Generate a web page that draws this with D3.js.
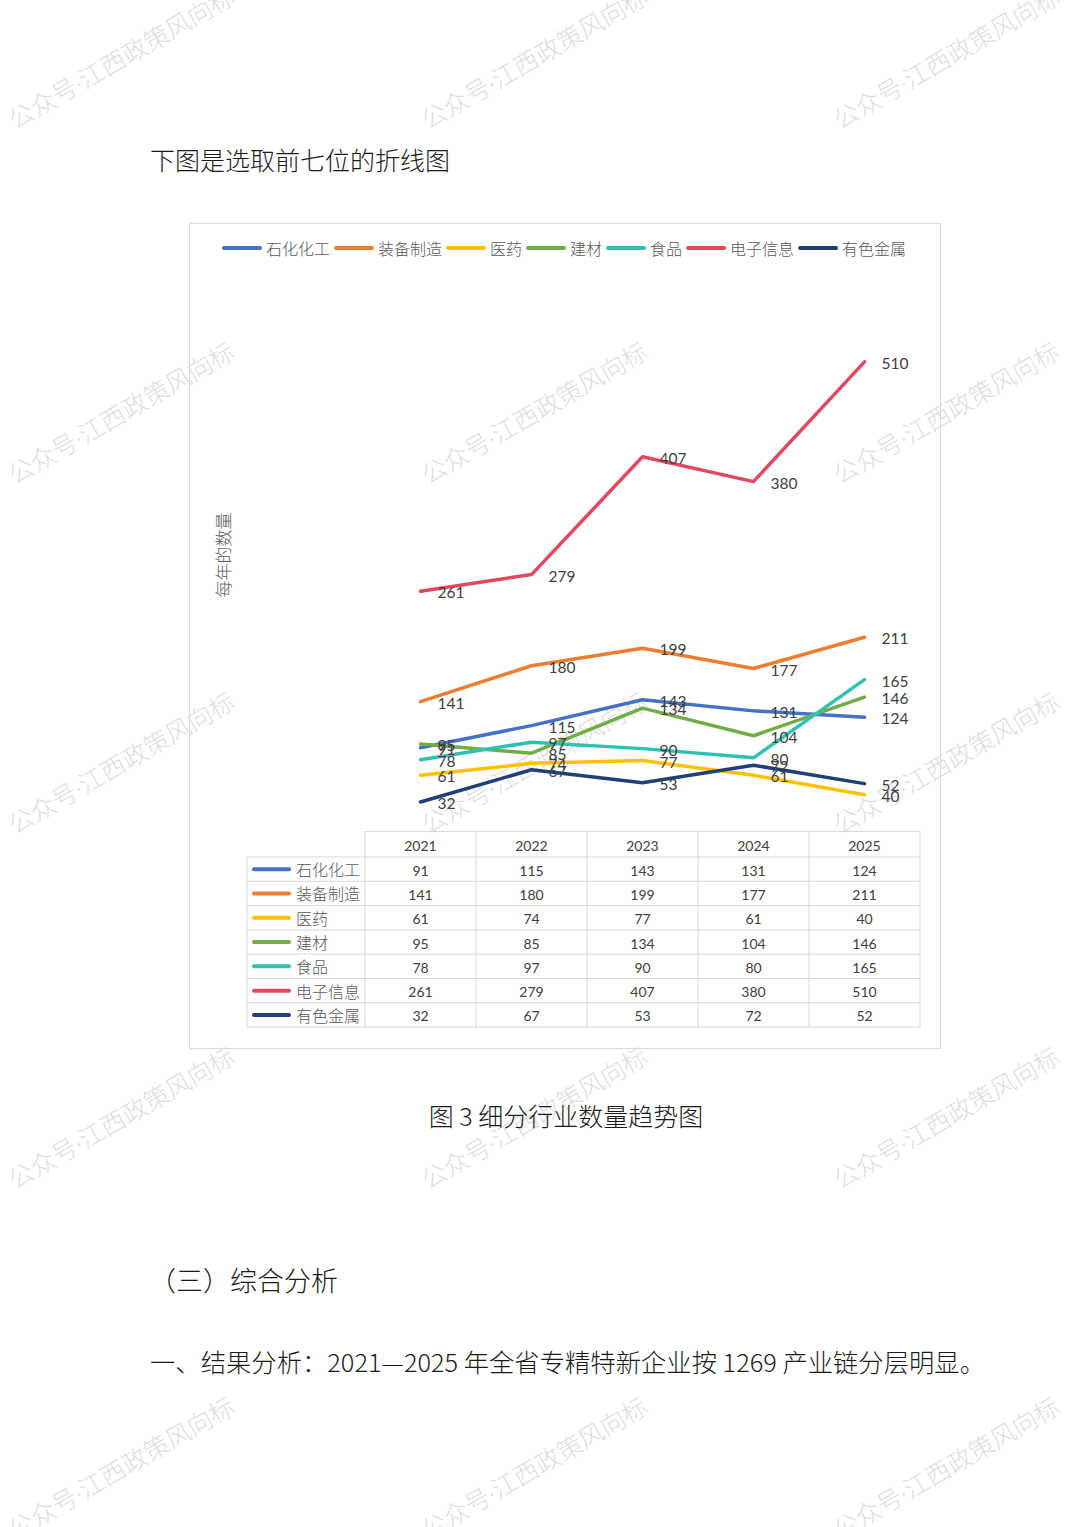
<!DOCTYPE html>
<html>
<head>
<meta charset="utf-8">
<script src="https://cdn.jsdelivr.net/npm/d3@7"></script>
<style>
    html, body { margin: 0; padding: 0; background: #fff; }
    svg { display: block; }
</style>
</head>
<body>
<svg id="page" width="1080" height="1527"></svg>
<script>
// data
const YEARS = ['2021', '2022', '2023', '2024', '2025'];
const SERIES_NAMES = ['石化化工', '装备制造', '医药', '建材', '食品', '电子信息', '有色金属'];
const SHIHUA = [91, 115, 143, 131, 124];
const ZHUANGBEI = [141, 180, 199, 177, 211];
const YIYAO = [61, 74, 77, 61, 40];
const JIANCAI = [95, 85, 134, 104, 146];
const SHIPIN = [78, 97, 90, 80, 165];
const DIANZI = [261, 279, 407, 380, 510];
const YOUSE = [32, 67, 53, 72, 52];
const SERIES_COLORS = ['#4472C4', '#ED7D31', '#FFC000', '#70AD47', '#2FC2B2', '#E2485E', '#203F75'];

const WATERMARK = '公众号·江西政策风向标';

function trendChart() {
    const root = d3.select('#page');

    const CJK = '"Noto Sans CJK SC", "Noto Sans", sans-serif';
    const NUM = 'Lato, "Liberation Sans", sans-serif';

    const BOX = {x: 189.5, y: 223.5, w: 751, h: 825};
    const PLOT_LEFT = 365;
    const PLOT_RIGHT = 920;
    const PLOT_TOP = 279;
    const PLOT_BOTTOM = 831.5;

    const TABLE_LEFT = 247;
    const HEADER_H = 25.5;
    const ROW_H = 24.3;
    const LINE_W = 3.5;

    const series = SERIES_NAMES.map((name, i) => ({
        name: name,
        values: [SHIHUA, ZHUANGBEI, YIYAO, JIANCAI, SHIPIN, DIANZI, YOUSE][i],
        color: SERIES_COLORS[i]
    }));

    const x = d3.scaleBand().domain(YEARS).range([PLOT_LEFT, PLOT_RIGHT]);
    const cx = d => x(d) + x.bandwidth() / 2;
    const y = d3.scaleLinear().domain([0, 600]).range([PLOT_BOTTOM, PLOT_TOP]);

    drawWatermarks();
    drawPageText();
    drawFrame();
    drawLegend();
    drawLines();
    drawTable();

    function drawPageText() {
        root.append('text')
            .text('下图是选取前七位的折线图')
            .attr('x', 150)
            .attr('y', 159)
            .attr('font-family', CJK)
            .attr('font-weight', 300)
            .attr('font-size', 25)
            .attr('fill', '#1a1a1a')
            .attr('dominant-baseline', 'central');

        root.append('text')
            .text('图 3 细分行业数量趋势图')
            .attr('x', 566)
            .attr('y', 1115)
            .attr('font-family', CJK)
            .attr('font-weight', 300)
            .attr('font-size', 25)
            .attr('fill', '#1a1a1a')
            .attr('text-anchor', 'middle')
            .attr('dominant-baseline', 'central');

        root.append('text')
            .text('（三）综合分析')
            .attr('x', 149)
            .attr('y', 1279)
            .attr('font-family', CJK)
            .attr('font-weight', 300)
            .attr('font-size', 27)
            .attr('fill', '#1a1a1a')
            .attr('dominant-baseline', 'central');

        root.append('text')
            .text('一、结果分析：2021—2025 年全省专精特新企业按 1269 产业链分层明显。')
            .attr('x', 150)
            .attr('y', 1361)
            .attr('font-family', CJK)
            .attr('font-weight', 300)
            .attr('font-size', 25)
            .attr('fill', '#1a1a1a')
            .attr('textLength', 835)
            .attr('lengthAdjust', 'spacingAndGlyphs')
            .attr('dominant-baseline', 'central');
    }

    function drawFrame() {
        root.append('rect')
            .attr('x', BOX.x)
            .attr('y', BOX.y)
            .attr('width', BOX.w)
            .attr('height', BOX.h)
            .attr('fill', 'none')
            .attr('stroke', '#d9d9d9')
            .attr('stroke-width', 1);

        root.append('text')
            .text('每年的数量')
            .attr('transform', 'translate(222,555) rotate(-90)')
            .attr('font-family', CJK)
            .attr('font-weight', 300)
            .attr('font-size', 17)
            .attr('fill', '#595959')
            .attr('text-anchor', 'middle')
            .attr('dominant-baseline', 'central');
    }

    function drawLegend() {
        const g = root.append('g').attr('class', 'legend');
        let pos = 222;
        series.forEach(s => {
            g.append('line')
                .attr('x1', pos + 2)
                .attr('x2', pos + 38)
                .attr('y1', 248)
                .attr('y2', 248)
                .attr('stroke', s.color)
                .attr('stroke-width', 4)
                .attr('stroke-linecap', 'round');
            const t = g.append('text')
                .text(s.name)
                .attr('x', pos + 44)
                .attr('y', 248)
                .attr('font-family', CJK)
                .attr('font-weight', 300)
                .attr('font-size', 16)
                .attr('fill', '#595959')
                .attr('dominant-baseline', 'central');
            pos += 44 + t.node().getComputedTextLength() + 4;
        });
    }

    function drawLines() {
        const line = d3.line()
            .x((d, i) => cx(YEARS[i]))
            .y(d => y(d));

        series.forEach(s => {
            root.append('path')
                .datum(s.values)
                .attr('d', line)
                .attr('fill', 'none')
                .attr('stroke', s.color)
                .attr('stroke-width', LINE_W)
                .attr('stroke-linejoin', 'round')
                .attr('stroke-linecap', 'round');
        });

        // data labels, to the right of each point
        series.forEach(s => {
            s.values.forEach((v, i) => {
                root.append('text')
                    .text(v)
                    .attr('x', cx(YEARS[i]) + 17)
                    .attr('y', y(v) + 1)
                    .attr('font-family', NUM)
                    .attr('font-size', 15.5)
                    .attr('fill', '#404040')
                    .attr('dominant-baseline', 'central');
            });
        });
    }

    function drawTable() {
        const g = root.append('g').attr('class', 'data-table');
        const top = PLOT_BOTTOM;
        const bodyTop = top + HEADER_H;
        const bottom = bodyTop + ROW_H * series.length;
        const grid = '#d9d9d9';

        // header row lines
        g.append('line')
            .attr('x1', PLOT_LEFT).attr('x2', PLOT_RIGHT)
            .attr('y1', top).attr('y2', top)
            .attr('stroke', grid);
        for (let r = 0; r <= series.length; r++) {
            const yy = bodyTop + r * ROW_H;
            g.append('line')
                .attr('x1', TABLE_LEFT).attr('x2', PLOT_RIGHT)
                .attr('y1', yy).attr('y2', yy)
                .attr('stroke', grid);
        }
        g.append('line')
            .attr('x1', TABLE_LEFT).attr('x2', TABLE_LEFT)
            .attr('y1', bodyTop).attr('y2', bottom)
            .attr('stroke', grid);
        YEARS.concat([null]).forEach(yr => {
            const xx = yr === null ? PLOT_RIGHT : x(yr);
            g.append('line')
                .attr('x1', xx).attr('x2', xx)
                .attr('y1', top).attr('y2', bottom)
                .attr('stroke', grid);
        });

        YEARS.forEach(yr => {
            g.append('text')
                .text(yr)
                .attr('x', cx(yr))
                .attr('y', top + HEADER_H / 2 + 1)
                .attr('font-family', NUM)
                .attr('font-size', 14)
                .attr('fill', '#404040')
                .attr('text-anchor', 'middle')
                .attr('dominant-baseline', 'central');
        });

        series.forEach((s, r) => {
            const rowY = bodyTop + ROW_H * r + ROW_H / 2;
            g.append('line')
                .attr('x1', 254).attr('x2', 289)
                .attr('y1', rowY).attr('y2', rowY)
                .attr('stroke', s.color)
                .attr('stroke-width', 4)
                .attr('stroke-linecap', 'round');
            g.append('text')
                .text(s.name)
                .attr('x', 296)
                .attr('y', rowY)
                .attr('font-family', CJK)
                .attr('font-weight', 300)
                .attr('font-size', 16)
                .attr('fill', '#595959')
                .attr('dominant-baseline', 'central');
            s.values.forEach((v, i) => {
                g.append('text')
                    .text(v)
                    .attr('x', cx(YEARS[i]))
                    .attr('y', rowY + 1)
                    .attr('font-family', NUM)
                    .attr('font-size', 14)
                    .attr('fill', '#404040')
                    .attr('text-anchor', 'middle')
                    .attr('dominant-baseline', 'central');
            });
        });
    }

    function drawWatermarks() {
        const g = root.append('g').attr('class', 'watermark');
        [15, 428, 840].forEach(wx => {
            [130, 485, 835, 1190, 1540].forEach(wy => {
                // Latin font first so the middle dot stays narrow
                g.append('text')
                    .text(WATERMARK)
                    .attr('transform', 'translate(' + wx + ',' + wy + ') rotate(-30)')
                    .attr('font-family', 'Lato, ' + CJK)
                    .attr('font-weight', 300)
                    .attr('font-size', 25)
                    .attr('fill', '#dedede');
            });
        });
    }
}

trendChart();
</script>
</body>
</html>
